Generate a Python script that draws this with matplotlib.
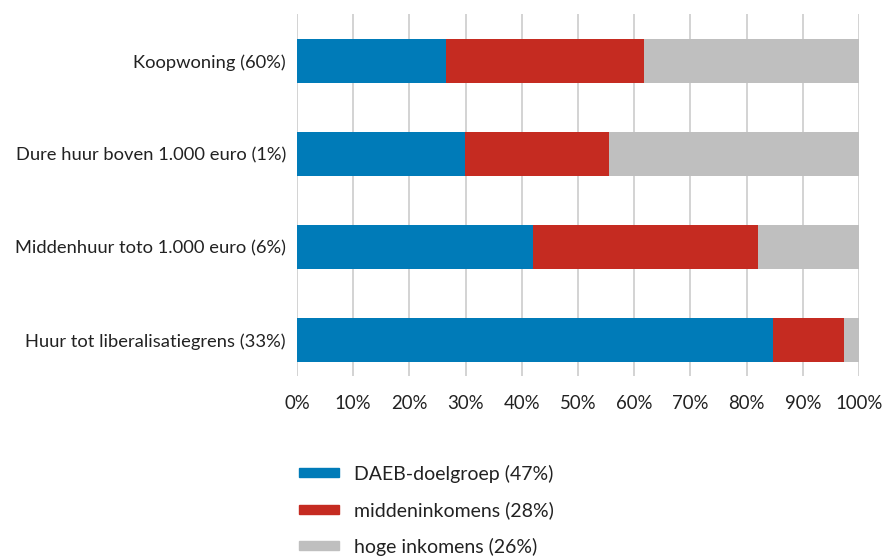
import matplotlib
matplotlib.use("Agg")
import matplotlib.pyplot as plt
from matplotlib.patches import Patch
import numpy as np

plt.rcParams['font.family'] = ['Lato', 'DejaVu Sans']

categories = ["Koopwoning (60%)", "Dure huur boven 1.000 euro (1%)",
              "Middenhuur toto 1.000 euro (6%)", "Huur tot liberalisatiegrens (33%)"]
daeb = [26.5, 29.9, 42.0, 84.7]
midden = [35.2, 25.7, 40.1, 12.6]
hoog = [38.3, 44.4, 17.9, 2.7]
series_labels = ["DAEB-doelgroep (47%)", "middeninkomens (28%)", "hoge inkomens (26%)"]
colors = ["#007bb8", "#c52b21", "#bfbfbf"]
xticks = [0, 10, 20, 30, 40, 50, 60, 70, 80, 90, 100]

fig = plt.figure(figsize=(8.84, 5.59), dpi=100)
W, H = 884, 559
ax = fig.add_axes([297 / W, 1 - 376 / H, 562 / W, 362 / H])

y = np.arange(len(categories))
left = np.zeros(len(categories))
for vals, c in zip([daeb, midden, hoog], colors):
    ax.barh(y, vals, left=left, height=0.475, color=c, zorder=3)
    left += np.array(vals)

ax.set_ylim(len(categories) - 1 + 0.39, -0.51)
ax.set_xlim(0, 100)
ax.set_yticks(y)
ax.set_yticklabels(categories, fontsize=13.2, color="#222222")
ax.set_xticks(xticks)
ax.set_xticklabels([f"{v}%" for v in xticks], fontsize=13.4, color="#222222")
ax.tick_params(axis="both", length=0)
ax.tick_params(axis="x", pad=14)
ax.tick_params(axis="y", pad=8)
for s in ax.spines.values():
    s.set_visible(False)
ax.grid(axis="x", color="#d0d0d0", linewidth=1.3, zorder=0)

handles = [Patch(color=c) for c in colors]
fig.legend(handles, series_labels, loc="upper left",
           bbox_to_anchor=(281 / W, 1 - 447 / H), frameon=False,
           fontsize=14, handlelength=2.06, handleheight=0.35,
           handletextpad=0.82, labelspacing=0.96, labelcolor="#222222")

fig.savefig("out.png", dpi=100)
